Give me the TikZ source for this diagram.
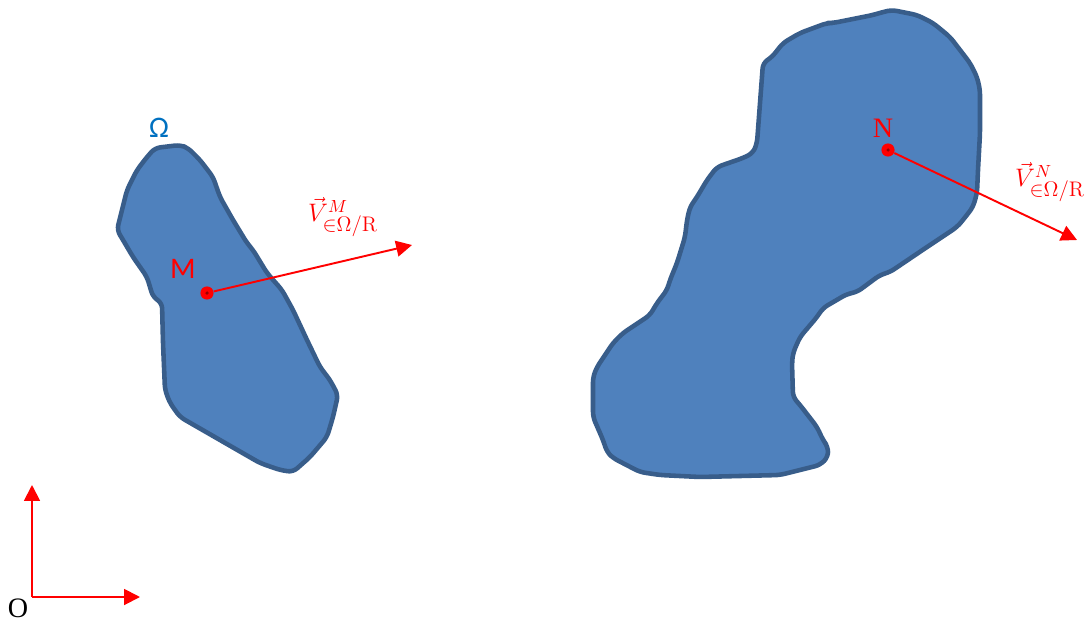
\documentclass[tikz,border=0pt]{standalone}
\usepackage{fontspec}
\usetikzlibrary{arrows.meta}
\newfontfamily\labelsans{Carlito}
\newfontfamily\labelserif{Liberation Serif}
\definecolor{bodyfill}{HTML}{4F81BD}
\definecolor{bodyline}{HTML}{385D8A}
\definecolor{omegablue}{HTML}{0070C0}
\newcommand{\velocitylabel}[1]{$\vec{V}^{\mbox{\fontsize{10}{11}\selectfont$#1$}}_{\mbox{\fontsize{12}{13}\selectfont${\in}\Omega/\mathrm{R}$}}$}
\tikzset{
  solid body/.style={fill=bodyfill, draw=bodyline, line width=2.6pt, rounded corners=3pt, line join=round},
  pointdot/.style={circle, fill=red, inner sep=0pt, minimum size=7.5pt},
  velocity/.style={red, line width=1.1pt, -{Triangle[length=9pt,width=9pt]}},
  vlabel/.style={red, font=\fontsize{14.4}{16}\selectfont},
}
\begin{document}
\begin{tikzpicture}[x=0.02cm, y=-0.02cm]
  \useasboundingbox (0,0) rectangle (1091,622);
  % Body Omega (left)
  \draw[solid body] (155,148) -- (180,145) -- (188,148) -- (200,160) -- (213,177) -- (220,197)
    -- (233,220) -- (247,243) -- (253,250) -- (267,273) -- (282,290) -- (293,310) -- (307,340)
    -- (320,367) -- (330,380) -- (338,395) -- (333,417) -- (327,437) -- (310,457) -- (293,472)
    -- (280,470) -- (260,463) -- (180,417) -- (170,403) -- (165,390) -- (163,343) -- (162,303)
    -- (153,297) -- (147,277) -- (133,257) -- (123,240) -- (117,230) -- (122,210) -- (127,190)
    -- (137,170) -- (147,157) -- cycle;
  % Body (right)
  \draw[solid body] (892,10) -- (917,15) -- (933,23) -- (950,37) -- (960,50) -- (970,63)
    -- (977,77) -- (980,90) -- (980,133) -- (978,170) -- (977,193) -- (973,207) -- (963,220)
    -- (957,227) -- (930,245) -- (927,247) -- (890,272) -- (880,275) -- (857,292) -- (847,294)
    -- (823,308) -- (817,317) -- (800,337) -- (793,353) -- (792,363) -- (793,397) -- (800,405)
    -- (817,427) -- (823,440) -- (828,447) -- (828,457) -- (820,465) -- (780,475) -- (700,477)
    -- (660,475) -- (640,472) -- (613,458) -- (607,452) -- (603,440) -- (593,417) -- (593,377)
    -- (597,367) -- (603,358) -- (613,343) -- (623,333) -- (650,315) -- (657,303) -- (667,290)
    -- (670,280) -- (677,263) -- (685,237) -- (687,220) -- (690,207) -- (697,197) -- (707,180)
    -- (717,167) -- (743,158) -- (753,153) -- (757,143) -- (763,63) -- (772,57) -- (783,43)
    -- (800,33) -- (827,23) -- (833,23) -- (873,15) -- (883,12) -- cycle;
  \node[omegablue, font=\labelsans\fontsize{17}{19}\selectfont] (omega) at (159,128) {Ω};
  % Points M and N
  \node[pointdot] (M) at (207,293) {};
  \node[pointdot] (N) at (888,150) {};
  \foreach \p in {M,N} \fill[red!60!black] (\p) circle (1pt);
  \node[red, font=\labelsans\fontsize{17}{19}\selectfont] (Mlabel) at (183,269) {M};
  \node[red, font=\labelserif\fontsize{16}{18}\selectfont] (Nlabel) at (883,128) {N};
  % Velocity vectors
  \coordinate (VMend) at (412,245);
  \coordinate (VNend) at (1077,240);
  \draw[velocity] (M) -- (VMend);
  \draw[velocity] (N) -- (VNend);
  \node[vlabel] (VMlabel) at (343,217) {\velocitylabel{M}};
  \node[vlabel] (VNlabel) at (1050,182) {\velocitylabel{N}};
  % Frame R
  \coordinate (O) at (32,597);
  \coordinate (Oy) at (32,485);
  \coordinate (Ox) at (140,597);
  \draw[velocity] (O) -- (Oy);
  \draw[velocity] (O) -- (Ox);
  \node[font=\labelserif\fontsize{16}{18}\selectfont] (Olabel) at (18,608) {O};
\end{tikzpicture}
\end{document}
